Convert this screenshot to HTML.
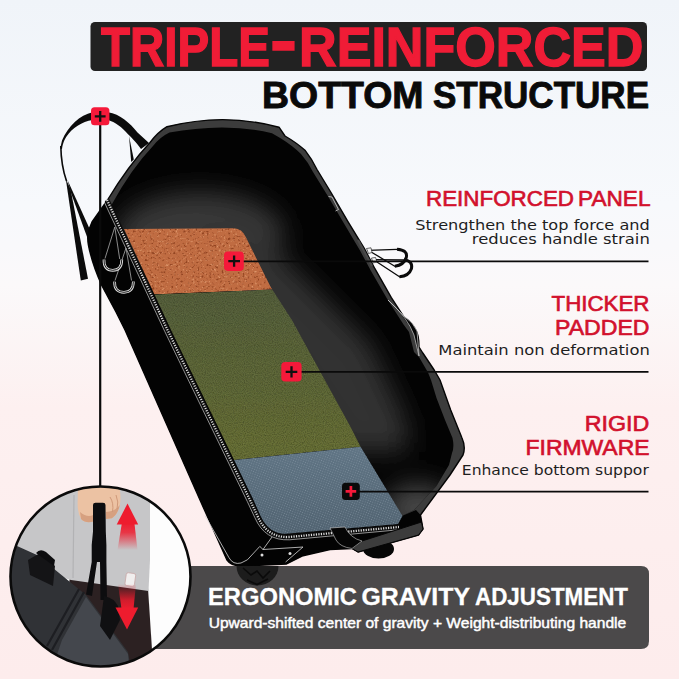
<!DOCTYPE html>
<html lang="en">
<head>
<meta charset="utf-8">
<title>Triple-Reinforced Bottom Structure</title>
<style>
html,body{margin:0;padding:0;background:#fff;}
body{width:679px;height:679px;overflow:hidden;font-family:"Liberation Sans",sans-serif;}
svg{display:block;}
text{font-family:"Liberation Sans",sans-serif;}
.hd{font-weight:bold;}
.lab{fill:#d2112d;font-size:21.800px;stroke:#d2112d;stroke-width:0.650px;}
.sub{fill:#1e1e1e;font-size:13.900px;font-family:"DejaVu Sans","Liberation Sans",sans-serif;}
</style>
</head>
<body>
<svg width="679" height="679" viewBox="0 0 679 679">
<defs>
  <linearGradient id="bg" x1="0" y1="0" x2="0" y2="1">
    <stop offset="0" stop-color="#f0f4f9"/>
    <stop offset="0.3" stop-color="#f7f9fc"/>
    <stop offset="0.42" stop-color="#fbf9fa"/>
    <stop offset="0.6" stop-color="#fdf0f0"/>
    <stop offset="1" stop-color="#fdecec"/>
  </linearGradient>
  <filter id="cork" x="0" y="0" width="100%" height="100%">
    <feTurbulence type="fractalNoise" baseFrequency="0.42" numOctaves="2" seed="11" result="n"/>
    <feColorMatrix in="n" type="matrix" values="0 0 0 0 0  0 0 0 0 0  0 0 0 0 0  5 0 0 0 -2.85" result="a"/>
    <feFlood flood-color="#8a3c1a" flood-opacity="0.85" result="c"/>
    <feComposite in="c" in2="a" operator="in" result="spots"/>
    <feColorMatrix in="n" type="matrix" values="0 0 0 0 0  0 0 0 0 0  0 0 0 0 0  0 -4 0 0 1.6" result="b"/>
    <feFlood flood-color="#dc9468" result="c2"/>
    <feComposite in="c2" in2="b" operator="in" result="lights"/>
    <feMerge><feMergeNode in="SourceGraphic"/><feMergeNode in="lights"/><feMergeNode in="spots"/></feMerge>
    <feComposite in2="SourceGraphic" operator="in"/>
  </filter>
  <filter id="grain" x="0" y="0" width="100%" height="100%">
    <feTurbulence type="fractalNoise" baseFrequency="0.9" numOctaves="1" seed="7" result="n"/>
    <feColorMatrix in="n" type="matrix" values="0 0 0 0 0  0 0 0 0 0  0 0 0 0 0  1.4 0 0 0 -0.55" result="a"/>
    <feFlood flood-color="#2e3416" result="c"/>
    <feComposite in="c" in2="a" operator="in" result="spots"/>
    <feColorMatrix in="n" type="matrix" values="0 0 0 0 0  0 0 0 0 0  0 0 0 0 0  0 -1.4 0 0 0.5" result="b"/>
    <feFlood flood-color="#8c9458" result="c2"/>
    <feComposite in="c2" in2="b" operator="in" result="lights"/>
    <feMerge><feMergeNode in="SourceGraphic"/><feMergeNode in="lights"/><feMergeNode in="spots"/></feMerge>
    <feComposite in2="SourceGraphic" operator="in"/>
  </filter>
  <pattern id="mesh" width="2.400" height="2.400" patternUnits="userSpaceOnUse" patternTransform="rotate(20)">
    <circle cx="1.200" cy="1.200" r="0.550" fill="#8fa0ad" fill-opacity="0.600"/>
  </pattern>
  <clipPath id="intClip"><path d="M169.500,132.500 Q195,127.600 222,127.400 Q250,127.600 272,133.300 L281,138.500 Q293,146 301,154 Q308,162 313,172 L327.500,195.500 L344,223.500 L360,250.500 L371,271 L387.500,299.500 L403.500,324.500 L409,332 L414,352 L419,357 L428,372.500 L431,380 L436.500,398 L445,420 L452.500,438 Q454.500,447 452,453 L449,465 L436.500,486 L414,510 L402,516 L398,524 L286,534 Q266,536 258,519 L250,500 L167.500,330 L119,222 L111.500,205 Q131,169 153,146 Q160,137 169.500,132.500 Z"/></clipPath>
  <filter id="soft" x="-30%" y="-30%" width="160%" height="160%"><feGaussianBlur stdDeviation="13"/></filter>
  <linearGradient id="greenG" x1="0" y1="290" x2="0" y2="465" gradientUnits="userSpaceOnUse">
    <stop offset="0" stop-color="#56603d"/>
    <stop offset="0.5" stop-color="#5f683a"/>
    <stop offset="1" stop-color="#6a7138"/>
  </linearGradient>
  <linearGradient id="blueG" x1="0" y1="450" x2="0" y2="535" gradientUnits="userSpaceOnUse">
    <stop offset="0" stop-color="#5f7484"/>
    <stop offset="1" stop-color="#506270"/>
  </linearGradient>
  <clipPath id="panel">
    <path d="M124,229 L234,228.300 Q242,228.500 245.800,237.100 L256.800,259.200 L270.800,287.200 L291.900,320 L350,426 L361,447.500 L402.500,516 L398,524 L288,533.500 Q270,535.500 261,517 L253.500,500 L171,330 Z"/>
  </clipPath>
  <clipPath id="circ"><circle cx="100.500" cy="576.500" r="89.500"/></clipPath>
  <linearGradient id="arrUp" x1="0" y1="523" x2="0" y2="550" gradientUnits="userSpaceOnUse">
    <stop offset="0" stop-color="#ee1c2e"/><stop offset="0.35" stop-color="#ee1c2e" stop-opacity="0.85"/><stop offset="1" stop-color="#ee1c2e" stop-opacity="0"/>
  </linearGradient>
  <linearGradient id="arrDn" x1="0" y1="609" x2="0" y2="584" gradientUnits="userSpaceOnUse">
    <stop offset="0" stop-color="#ee1c2e"/><stop offset="0.35" stop-color="#ee1c2e" stop-opacity="0.85"/><stop offset="1" stop-color="#ee1c2e" stop-opacity="0"/>
  </linearGradient>
</defs>

<!-- background -->
<rect width="679" height="679" fill="url(#bg)"/>

<!-- title -->
<rect x="90.500" y="22" width="556.500" height="49" rx="4.500" fill="#222"/>
<text class="hd" font-size="56" fill="#f01c36" stroke="#f01c36" stroke-width="1.400"><tspan x="101" y="65.800" textLength="169" lengthAdjust="spacingAndGlyphs">TRIPLE</tspan><tspan x="270" y="63.600" font-size="70" textLength="27" lengthAdjust="spacingAndGlyphs">-</tspan><tspan x="299" y="65.800" textLength="344.500" lengthAdjust="spacingAndGlyphs">REINFORCED</tspan></text>
<text class="hd" font-size="36.500" fill="#0a0a0a" stroke="#0a0a0a" stroke-width="0.900"><tspan x="262" y="108.300" textLength="161.500" lengthAdjust="spacingAndGlyphs">BOTTOM</tspan><tspan> </tspan><tspan x="433" y="108.300" textLength="216" lengthAdjust="spacingAndGlyphs">STRUCTURE</tspan></text>

<!-- strap -->
<g id="strap" fill="#0b0b0b" stroke="none">
  <path d="M92.500,112.200 C80,115 68,126 62,140.500 L60.200,148.600 L62,149 C63,142 65,139 66.500,136.500 C72,128 82,121.500 92.500,120 Z"/>
  <path d="M60.800,146 C61,158 63,171 66.500,181" fill="none" stroke="#0b0b0b" stroke-width="1.600"/>
  <path d="M65.800,179 L80.800,280.600 L88,278.800 L70.500,189 Z"/>
  <path d="M67.500,180 L89,227.500 L90,245 L71,193 Z"/>
  <path d="M108,112.200 C120,114 130,123 137.500,132.400 L149,143 L141,149 C136,142 132,138 127.800,134 C122,127 115,122 108,120 Z"/>
  <path d="M129,136 L131.200,162 L133.800,159.500 Z"/>
</g>

<!-- bag -->
<g id="bag">
  <!-- outer shell -->
  <path d="M167,126.700 Q195,119.800 222.500,119.600 Q252,120 279,127.200 L285,136 Q297,143 305.300,150.600 Q312,159 317,169.500 L331.300,193 L347.800,221.300 L364.300,248.400 L374.900,268.700 L391.200,297.400 L407.400,322.300 L415,329 Q419,334 419,347 L422.800,353 L434.200,370 L440,380 L450.700,410 L462,438 Q466,447 463,455 L450,475 L420.500,515 L423,529 L418.500,535 L358,552 L352,548.500 L330,549.500 L303,555.700 L286.600,564 L241,566 Q231,566 226.800,559.800 L200,500 L125,330 L116,312 L101.800,285.400 Q94,268 90.500,254 Q87,242 88,235 Q89,228 92,222 L107.500,200 Q128,166 150,142.500 Q158,132 167,126.700 Z" fill="#3c3c3c" stroke="#050505" stroke-width="1.400" stroke-linejoin="round"/>
  <!-- interior -->
  <path d="M169.500,132.500 Q195,127.600 222,127.400 Q250,127.600 272,133.300 L281,138.500 Q293,146 301,154 Q308,162 313,172 L327.500,195.500 L344,223.500 L360,250.500 L371,271 L387.500,299.500 L403.500,324.500 L409,332 L414,352 L419,357 L428,372.500 L431,380 L436.500,398 L445,420 L452.500,438 Q454.500,447 452,453 L449,465 L436.500,486 L414,510 L402,516 L398,524 L286,534 Q266,536 258,519 L250,500 L167.500,330 L119,222 L111.500,205 Q131,169 153,146 Q160,137 169.500,132.500 Z" fill="#030303"/>
  <g clip-path="url(#intClip)">
    <g filter="url(#soft)">
      <ellipse cx="200" cy="234" rx="84" ry="42" fill="#393939"/>
      <path d="M190,232 L256,232 L288,262 L370,343 L406,420 L408,452 L340,452 Z" fill="#323232"/>
      <ellipse cx="418" cy="508" rx="34" ry="24" fill="#474747"/>
    </g>
  </g>
  <!-- left band -->
  <path d="M107.500,200 L92,222 Q89,228 88,235 Q87,242 90.500,254 Q94,268 101.800,285.400 L116,312 L125,330 L200,500 L226.800,559.800 Q231,566 241,566 L286.600,564 L303,555.700 L330,549.500 L352,548.500 L358,552 L418.500,535 L423,529 L420.500,515 L416,510 L402,516 L398,524 L286,534 Q266,536 258,519 L250,500 L167.500,330 L119,222 L111.500,205 Z" fill="#030303"/>
  <!-- layers -->
  <g clip-path="url(#panel)">
    <path d="M120,225 L420,225 L420,283.3 L120,295.9 Z" fill="#c06c43" filter="url(#cork)"/>
    <path d="M120,295.9 L420,283.3 L420,440.5 L120,472 Z" fill="url(#greenG)" filter="url(#grain)"/>
    <path d="M120,472 L420,440.5 L420,540 L120,540 Z" fill="url(#blueG)"/>
    <path d="M120,472 L420,440.5 L420,540 L120,540 Z" fill="url(#mesh)"/>
  </g>
  <!-- zipper -->
  <path d="M107,200 L167.500,330 L250,500 L257.500,516 Q267,538 289,537 L399,527" fill="none" stroke="#0c0c0c" stroke-width="5"/>
  <path d="M107,200 L167.500,330 L250,500 L257.500,516 Q267,538 289,537 L399,527" fill="none" stroke="#dcdcdc" stroke-width="2.300" stroke-dasharray="1.200 1.300"/>
  <path d="M104.300,202 L164.800,331.500 L247.300,501.500 L254.800,517.500 Q265,541 289.500,539.800 L398.500,529.800" fill="none" stroke="#cfcfcf" stroke-width="0.700"/>
  <!-- d-rings -->
  <g fill="none" stroke="#9a9a9a" stroke-width="0.900">
    <path d="M114.800,227 L105,258.500 M114.800,227 L119.700,259 M126,248 L115,280.500 M126,248 L131.500,280.500"/>
  </g>
  <g fill="none" stroke="#dedede" stroke-width="2.700" stroke-linecap="butt">
    <path d="M104,259.500 Q103.500,270.300 112.800,270.300 Q121.800,270.300 121.800,259.500"/>
    <path d="M114.600,281.600 Q114.100,292.300 124,292.300 Q133.400,292.300 133.400,281.600"/>
  </g>
  <g fill="none" stroke="#1a1a1a" stroke-width="1">
    <path d="M104,259.500 Q103.500,270.300 112.800,270.300 Q121.800,270.300 121.800,259.500"/>
    <path d="M114.600,281.600 Q114.100,292.300 124,292.300 Q133.400,292.300 133.400,281.600"/>
  </g>
  <!-- white trim lines near bottom-left -->
  <path d="M205,515.500 L229,557.700 Q233,565 241,563 L247.400,559.800 L259.800,546.400 L263,549.500 L272,537 M263,549.500 L303,547 L285.600,562" fill="none" stroke="#d5d5d5" stroke-width="0.800"/>
  <circle cx="262" cy="555" r="1.500" fill="#ddd"/><circle cx="290" cy="553.500" r="1.500" fill="#ddd"/>
  <!-- feet / wheels -->
  <ellipse cx="378.500" cy="549" rx="15.500" ry="9.500" fill="#060606"/>
  <path d="M358,552 L418.500,535 L423,529 L421.500,522 L362,541 L352,548.500 Z" fill="#3c3c3c" stroke="#050505" stroke-width="1"/>
  <path d="M330,528 L336,540 Q340,547 352,548.500 L362,541 Q350,538 345,527 Z" fill="#050505" stroke="#cfcfcf" stroke-width="0.600"/>
  <!-- right handle bump -->
  <path d="M388,300 Q408,318 414,335 L419,356 L417,331 Q413,322 405,317 Z" fill="#050505" stroke="#cfcfcf" stroke-width="0.700"/>
  <!-- carabiners -->
  <g fill="none" stroke="#0a0a0a" stroke-width="1.300" stroke-linecap="round">
    <path d="M368,250.300 L397,249.400 M394.800,266.200 L372.400,252.700"/>
    <path d="M372.400,259.700 L404,260 M399.500,276.800 L377,262"/>
  </g>
  <g fill="none" stroke="#0a0a0a" stroke-width="3" stroke-linecap="butt">
    <path d="M397,249.200 Q408,250 406.300,257.500 Q404,265 394.800,266.200"/>
    <path d="M404,259.700 Q413,261 411.500,268.500 Q409,276 399.500,276.800"/>
  </g>
  <path d="M366.500,248.500 L371,247.800 L372,252.500 L368.500,253.500 Z M371.500,258 L375.500,257.500 L377,262 L373,263 Z" fill="#f2f2f2" stroke="#0a0a0a" stroke-width="0.600"/>
  <path d="M358,240 L372,266" stroke="#4a4a4a" stroke-width="2.200" fill="none"/>
  <path d="M328.500,196.500 L332,197 L338.500,209.500 L335.500,211" fill="none" stroke="#cfcfcf" stroke-width="0.800"/>
</g>

<!-- leader lines -->
<g stroke="#0a0a0a" stroke-width="1.800" fill="none">
  <path d="M100.200,124 L100.200,486" stroke-width="2.200"/>
  <path d="M242,261.300 L648.500,261.300"/>
  <path d="M300,371.800 L648.500,371.800"/>
  <path d="M358,491.600 L648.500,491.600"/>
</g>

<!-- markers -->
<g id="markers">
  <rect x="91" y="107.300" width="18.400" height="18" rx="3.500" fill="#f5193a"/>
  <path d="M94.800,116.400 H105.600 M100.200,111 V121.800" stroke="#111" stroke-width="2.300"/>
  <rect x="224" y="251.400" width="19.800" height="19.500" rx="3.800" fill="#f5193a"/>
  <path d="M228.300,261.100 H240 M234.100,255.500 V266.700" stroke="#111" stroke-width="2.300"/>
  <rect x="281.300" y="362" width="20.300" height="19.500" rx="3.800" fill="#f5193a"/>
  <path d="M285.700,371.800 H297.300 M291.500,366.200 V377.400" stroke="#111" stroke-width="2.300"/>
  <rect x="342" y="482.700" width="17.800" height="17.300" rx="3.500" fill="#0a0a0a"/>
  <path d="M345.600,491.400 H356.200 M350.900,486.100 V496.700" stroke="#f5193a" stroke-width="2.700"/>
</g>

<!-- labels -->
<g text-anchor="end">
  <text class="lab" text-anchor="start"><tspan x="426" y="206.300" textLength="148" lengthAdjust="spacingAndGlyphs">REINFORCED</tspan><tspan> </tspan><tspan x="578" y="206.300" textLength="72.500" lengthAdjust="spacingAndGlyphs">PANEL</tspan></text>
  <text class="sub" x="649.8" y="229.5" textLength="234.5" lengthAdjust="spacingAndGlyphs">Strengthen the top force and</text>
  <text class="sub" x="649.8" y="244.2" textLength="178" lengthAdjust="spacingAndGlyphs">reduces handle strain</text>
  <text class="lab" x="649.5" y="311.3" textLength="98" lengthAdjust="spacingAndGlyphs">THICKER</text>
  <text class="lab" x="649.5" y="334.5" textLength="94.5" lengthAdjust="spacingAndGlyphs">PADDED</text>
  <text class="sub" x="649.8" y="355.2" textLength="211.5" lengthAdjust="spacingAndGlyphs">Maintain non deformation</text>
  <text class="lab" x="649.3" y="431.3" textLength="64.5" lengthAdjust="spacingAndGlyphs">RIGID</text>
  <text class="lab" x="649.5" y="454.5" textLength="124" lengthAdjust="spacingAndGlyphs">FIRMWARE</text>
  <text class="sub" x="648.8" y="475.2" textLength="187" lengthAdjust="spacingAndGlyphs">Enhance bottom suppor</text>
</g>

<!-- bottom banner -->
<path d="M100,566 H641 Q649,566 649,574 V641 Q649,649 641,649 H100 Z" fill="#4b494a"/>
<text class="hd" font-size="24.500" fill="#fff" stroke="#fff" stroke-width="0.300"><tspan x="208" y="604.600" textLength="149" lengthAdjust="spacingAndGlyphs">ERGONOMIC</tspan><tspan> </tspan><tspan x="361.500" y="604.600" textLength="108" lengthAdjust="spacingAndGlyphs">GRAVITY</tspan><tspan> </tspan><tspan x="475" y="604.600" textLength="153" lengthAdjust="spacingAndGlyphs">ADJUSTMENT</tspan></text>
<text x="208.700" y="627.700" font-size="14.300" fill="#fff" stroke="#fff" stroke-width="0.450" textLength="417.500" lengthAdjust="spacingAndGlyphs">Upward-shifted center of gravity + Weight-distributing handle</text>

<!-- wheel over banner -->
<g id="wheel">
  <path d="M236.500,566 A21,19.500 0 0 0 278.500,566 Z" fill="#1c1c1c"/>
  <path d="M243,568 L251,575 L257,571 L263,578 L270,571 M247,580 L257,584.500 L268,579" fill="none" stroke="#0a0a0a" stroke-width="1.600"/>
</g>

<!-- circle inset -->
<g id="inset">
  <circle cx="100.500" cy="576.500" r="90" fill="#fff"/>
  <g clip-path="url(#circ)">
    <rect x="0" y="480" width="200" height="200" fill="#fdfdfd"/>
    <!-- pants -->
    <path d="M70,575 L148,588 L152,650 L150,675 L60,675 Z" fill="#2c2122"/>
    <!-- sweater -->
    <path d="M5,480 L150,480 L150,560 L148.500,591 L71,580 L5,560 Z" fill="#c6c6c8"/>
    <path d="M74,495 L73,578" stroke="#b2b2b4" stroke-width="1.200" fill="none"/>
    <rect x="125.500" y="573" width="9.500" height="13" rx="2" fill="#f0eeee" stroke="#c9a9a9" stroke-width="0.800" transform="rotate(8 130 580)"/>
    <!-- hand -->
    <path d="M78,485 L119,485 Q121.500,497 119.800,505 Q118,514 112,518.300 L106,519 L105,510 L93,510 L93.500,521.500 Q86,524 81,519 Q77,512 77.700,500 Z" fill="#ecc2a3"/>
    <path d="M81,519 Q86,524 93.500,521.500 L93.300,515 Q87,518 80,512 Z M106,519 L112,518.300 Q118,514 119.800,505 Q116,511 106,512 Z" fill="#d6a080"/>
    <path d="M110,497 Q114,503 112.500,512 M116,495 Q119,502 117,509" stroke="#cf9878" stroke-width="1" fill="none"/>
    <!-- strap -->
    <path d="M93,505 Q93,502.800 95.500,502.800 L103,502.800 Q105.500,502.800 105.500,505 L105.800,531.500 L106.400,545 L106.400,562 L107,600 L100.500,600 L100,562 L97,562 L92,596 L86,594.500 L91.700,562 L91.700,545 L93,531.500 Z" fill="#0d0d0f"/>
    <!-- bag -->
    <path d="M5,540 L17,546 L37,555 L86,595 L128,652 L132,675 L5,675 Z" fill="#303236"/>
    <path d="M86,597 L128,654 L130,675 L50,675 L62,640 Z" fill="#44474d"/>
    <path d="M84,592 L52,650 M79,589 L47,646" stroke="#1d1e22" stroke-width="2.200" fill="none"/>
    <path d="M28,560 L40,553 L55,566 L53,586 L30,575 Z" fill="#141416"/>
    <path d="M36,553 Q40,548 46,552 L55,560 L54,566 Z" fill="#0c0c0e"/>
    <path d="M104,596 Q114,598 118,606 L120,620 L110,640 L100,626 Z" fill="#101012"/>
    <!-- arrows -->
    <path d="M121.900,523 L134.400,523 L137.500,550 L117.500,550 Z" fill="url(#arrUp)"/>
    <path d="M127.500,503.600 L138.200,524.400 L116.700,524.400 Z" fill="#ee1c2e"/>
    <path d="M121.500,609 L133.500,609 L136,584 L118,584 Z" fill="url(#arrDn)"/>
    <path d="M127,629.500 L138.200,607.600 L115.500,607.600 Z" fill="#ee1c2e"/>
  </g>
  <circle cx="100.500" cy="576.500" r="90" fill="none" stroke="#0a0a0a" stroke-width="2.600"/>
</g>
</svg>
</body>
</html>
